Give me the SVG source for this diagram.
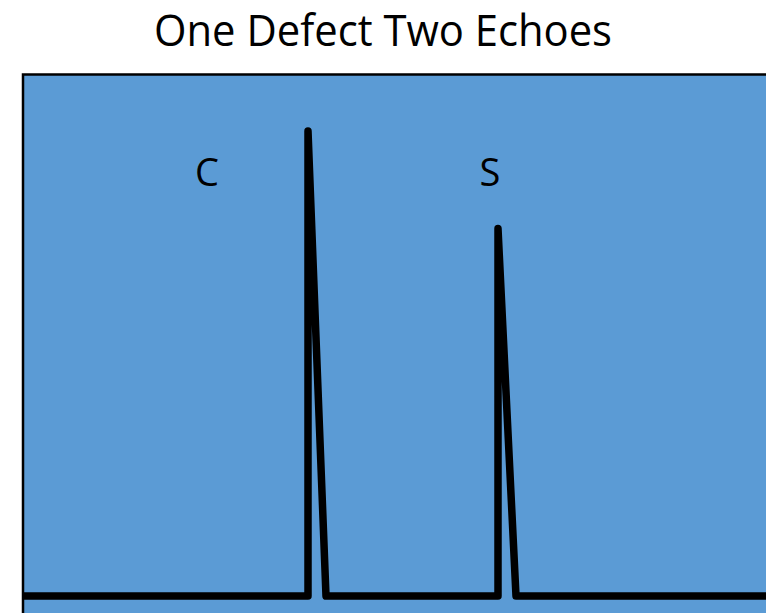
<svg xmlns="http://www.w3.org/2000/svg" width="766" height="613" viewBox="0 0 766 613">
  <style>
    .title { font-family: "Open Sans", "Liberation Sans", sans-serif; font-size: 44px; fill: #000; }
    .lbl { font-family: "Open Sans", "Liberation Sans", sans-serif; font-size: 38px; fill: #000; }
    .trace { fill: none; stroke: #000; stroke-width: 7.5; stroke-linejoin: round; stroke-linecap: butt; }
  </style>
  <rect width="766" height="613" fill="#ffffff"/>
  <text class="title" x="383" y="46" text-anchor="middle" textLength="458" lengthAdjust="spacingAndGlyphs">One Defect Two Echoes</text>
  <g id="screen">
    <rect x="23" y="74.5" width="760" height="560" fill="#5B9BD5" stroke="#000" stroke-width="2.5"/>
  </g>
  <g id="label-C"><text class="lbl" x="207" y="185.5" text-anchor="middle">C</text></g>
  <g id="label-S"><text class="lbl" x="490" y="185.5" text-anchor="middle">S</text></g>
  <g id="connectors">
    <polyline class="trace" points="22,596 308,596 308,131 326,596 498,596 498,228.5 516,596 770,596"/>
  </g>
</svg>
